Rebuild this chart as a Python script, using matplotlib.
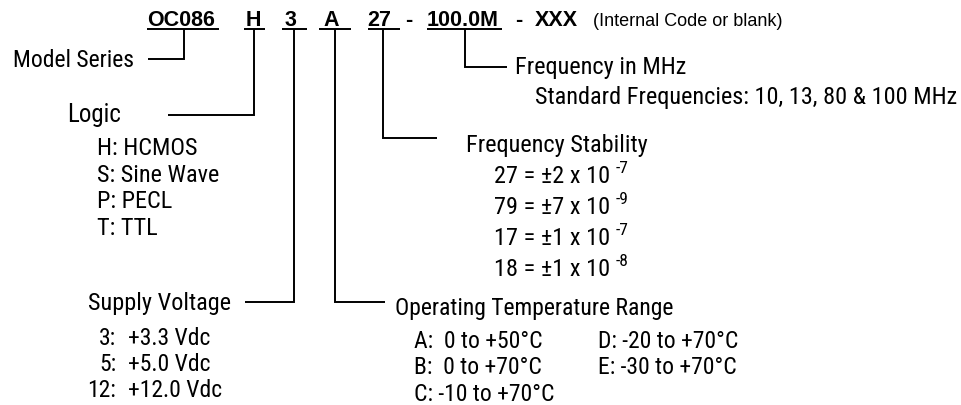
import matplotlib
matplotlib.use('Agg')
import matplotlib.pyplot as plt

# part number fields
code_parts = ['OC086', 'H', '3', 'A', '27', '-', '100.0M', '-', 'XXX']
code_note = '(Internal Code or blank)'

model_label = 'Model Series'
logic_label = 'Logic'
logic_opts = ['H: HCMOS', 'S: Sine Wave', 'P: PECL', 'T: TTL']
volt_label = 'Supply Voltage'
volt_codes = ['3:', '5:', '12:']
volt_vals = ['+3.3 Vdc', '+5.0 Vdc', '+12.0 Vdc']
temp_label = 'Operating Temperature Range'
temp_opts_left = ['A:  0 to +50°C', 'B:  0 to +70°C', 'C: -10 to +70°C']
temp_opts_right = ['D: -20 to +70°C', 'E: -30 to +70°C']
stab_label = 'Frequency Stability'
stab_opts = ['27 = ±2 x 10', '79 = ±7 x 10', '17 = ±1 x 10', '18 = ±1 x 10']
stab_exp = ['-7', '-9', '-7', '-8']
freq_label = 'Frequency in MHz'
freq_note = 'Standard Frequencies: 10, 13, 80 & 100 MHz'

NARROW = ['Roboto Condensed', 'PT Sans Narrow', 'Archivo Narrow',
          'IBM Plex Sans Condensed', 'DejaVu Sans']
WIDE = ['Liberation Sans', 'DejaVu Sans']

fig = plt.figure(figsize=(9.62, 4.06), dpi=100)
ax = fig.add_axes([0, 0, 1, 1])
ax.set_xlim(0, 962)
ax.set_ylim(406, 0)
ax.axis('off')

def txt(x, y, s, size=17.5, **kw):
    kw.setdefault('family', NARROW)
    ax.text(x, y, s, fontsize=size, va='baseline', ha=kw.pop('ha', 'left'), color='black', **kw)

def line(xs, ys):
    ax.plot(xs, ys, color='black', lw=1.4, solid_capstyle='butt', solid_joinstyle='miter')

# top row
code_x = [147, 246, 285, 323, 367, 405, 427, 515, 535]
for s, x in zip(code_parts, code_x):
    txt(x, 26, s, size=15.5, family=WIDE, weight='bold')
txt(593, 26, code_note, size=13, family=WIDE)

# underlines
ul = [(147, 219), (244, 265), (282, 307), (319, 351), (368, 400), (427, 502)]
for a, b in ul:
    line([a, b], [30, 30])

# model series
txt(13, 67, model_label, size=17)
line([148, 184, 184], [60, 60, 30])

# logic
txt(67, 122, logic_label, size=18)
line([168, 254, 254], [116, 116, 30])
for i, s in enumerate(logic_opts):
    txt(97, 155 + i * 26.7, s, size=17.5)

# supply voltage
txt(88, 310, volt_label, size=17.5)
line([245, 294, 294], [303, 303, 30])
for i, (c, v) in enumerate(zip(volt_codes, volt_vals)):
    y = 345 + i * 26
    txt(116, y, c, size=17, ha='right')
    txt(128, y, v, size=17)

# operating temperature
line([335, 335, 385], [30, 303, 303])
txt(395, 315, temp_label, size=17)
for i, s in enumerate(temp_opts_left):
    txt(414, 348 + i * 26.5, s, size=17)
for i, s in enumerate(temp_opts_right):
    txt(598, 348 + i * 26.5, s, size=17)

# frequency stability
line([383, 383, 437], [30, 139, 139])
txt(466, 152, stab_label, size=17.5)
for i, (s, e) in enumerate(zip(stab_opts, stab_exp)):
    y = 183 + i * 31
    txt(494, y, s, size=17.5)
    txt(616, y - 10, e, size=12.5)

# frequency
line([465, 465, 507], [30, 68, 68])
txt(515, 74, freq_label, size=17.5)
txt(535, 104, freq_note, size=17.5)

fig.savefig('out.png', dpi=100)
